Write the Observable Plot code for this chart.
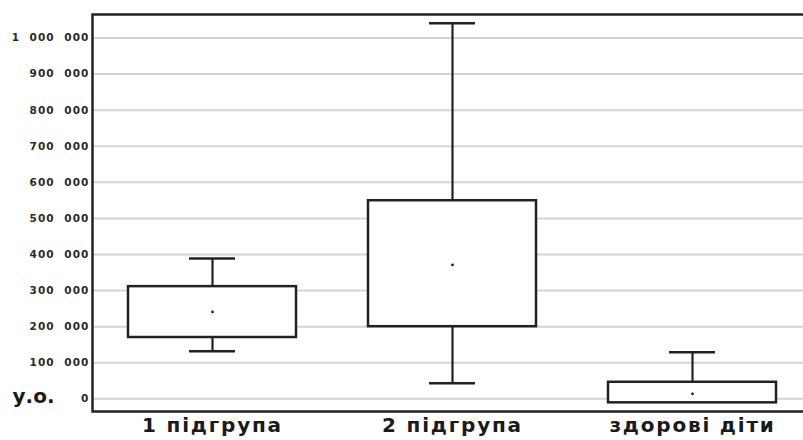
<!DOCTYPE html>
<html>
<head>
<meta charset="utf-8">
<script src="https://cdn.jsdelivr.net/npm/d3@7"></script>
<script src="https://cdn.jsdelivr.net/npm/@observablehq/plot@0.6"></script>
<style>
  body { margin: 0; background: #fff; overflow: hidden; }
  #chart svg { display: block; }
  #chart g[aria-label="y-axis tick label"] text { letter-spacing: 1.1px; }
  #chart g[aria-label="x-axis tick label"] text { letter-spacing: 1.8px; }
</style>
</head>
<body>
<div id="chart"></div>
<script>
// Groups along the horizontal axis
const groups = ["1 підгрупа", "2 підгрупа", "здорові діти"];

// Box-plot summary per group (у.о.)
const whiskerLow  = [132000,   43000, -11000];
const quartile1   = [170000,  200000, -11000];
const quartile3   = [311000,  549000,   46000];
const whiskerHigh = [389000, 1041000,  129000];
const means       = [241000,  371000,   14000];

// Value axis ticks and unit label
const yTicks = [0, 100000, 200000, 300000, 400000, 500000, 600000, 700000, 800000, 900000, 1000000];
const unitLabel = ["у.о."];

const rows = groups.map((g, i) => ({
  group: g,
  low: whiskerLow[i],
  q1: quartile1[i],
  q3: quartile3[i],
  high: whiskerHigh[i],
  mean: means[i]
}));

const fmt = d3.formatLocale({decimal: ",", thousands: "\u00a0\u00a0", grouping: [3], currency: ["", ""]}).format(",d");
const ink = "#222";

const chart = Plot.plot({
  width: 803,
  height: 440,
  marginTop: 14,
  marginLeft: 92,
  marginRight: 0,
  marginBottom: 29,
  style: {background: "#fff"},
  x: {domain: groups, range: [92, 812], padding: 0},
  y: {domain: [-35000, 1065000]},
  marks: [
    Plot.ruleY(yTicks, {stroke: "#d3d3d3", strokeWidth: 2}),
    Plot.ruleX(rows, {x: "group", y1: "low", y2: "q1", stroke: ink, strokeWidth: 2.2}),
    Plot.ruleX(rows, {x: "group", y1: "q3", y2: "high", stroke: ink, strokeWidth: 2.2}),
    Plot.tickY(rows, {x: "group", y: "high", stroke: ink, strokeWidth: 2.5, insetLeft: 97, insetRight: 97}),
    Plot.tickY(rows.filter(d => d.low < d.q1), {x: "group", y: "low", stroke: ink, strokeWidth: 2.5, insetLeft: 97, insetRight: 97}),
    Plot.barY(rows, {x: "group", y1: "q1", y2: "q3", fill: "#fff", stroke: ink, strokeWidth: 2.5, insetLeft: 36, insetRight: 36}),
    Plot.dot(rows, {x: "group", y: "mean", r: 1.4, fill: ink, stroke: null}),
    Plot.frame({stroke: ink, strokeWidth: 2.5, insetRight: -6}),
    Plot.axisY(yTicks, {
      tickSize: 0, tickPadding: 3, tickFormat: fmt, label: null,
      fontSize: 10.5, fontWeight: "bold", fontFamily: "DejaVu Sans", fill: "#2a2a2a"
    }),
    Plot.axisX({
      tickSize: 0, tickPadding: 6, label: null,
      fontSize: 20, fontWeight: "bold", fontFamily: "DejaVu Sans", fill: "#1a1a1a"
    }),
    Plot.text(unitLabel, {
      text: d => d, y: 0, frameAnchor: "left", dx: -80, dy: -2, textAnchor: "start",
      fontSize: 20, fontWeight: "bold", fontFamily: "DejaVu Sans", fill: "#1a1a1a"
    })
  ]
});

document.getElementById("chart").append(chart);
</script>
</body>
</html>
